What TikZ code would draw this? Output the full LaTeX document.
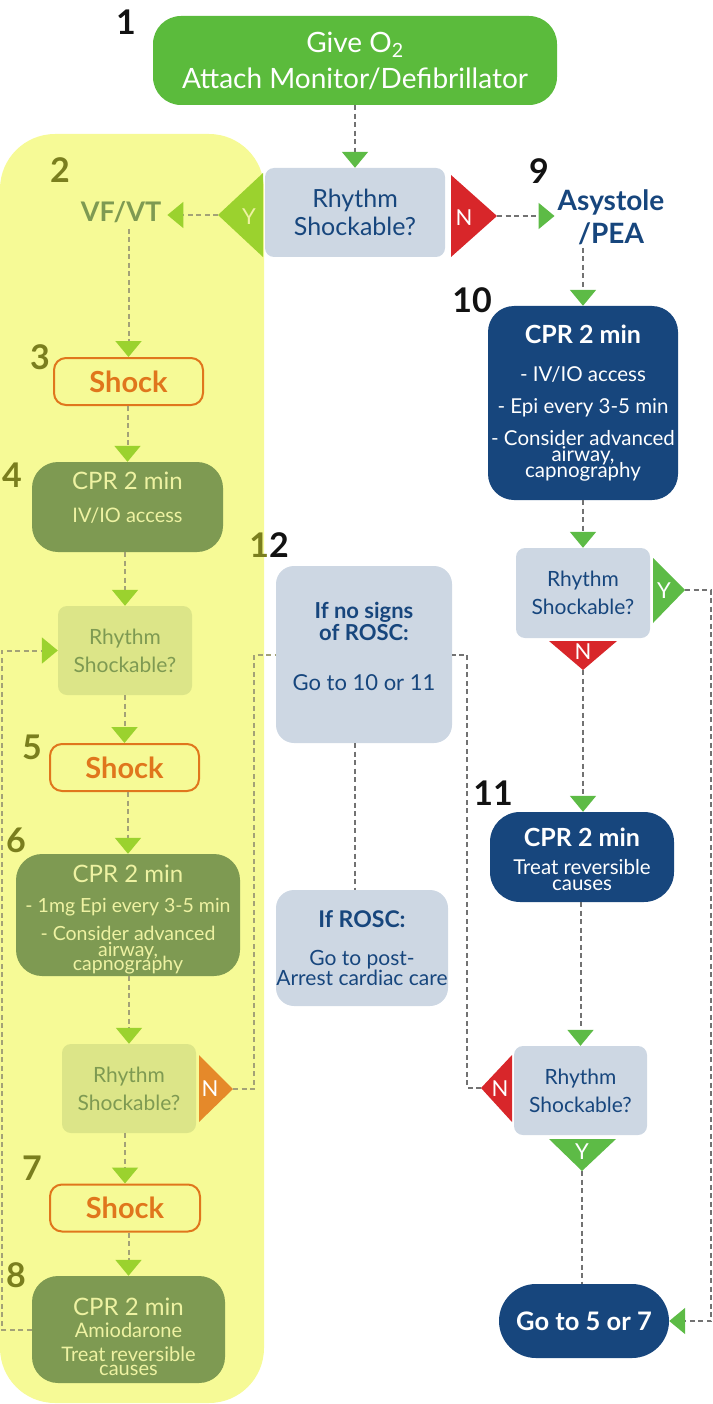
\documentclass[tikz,border=0pt]{standalone}
\usepackage{fontspec}
\setmainfont{Lato}
\usetikzlibrary{arrows.meta,positioning}
\definecolor{startgreen}{HTML}{5BBB3C}
\definecolor{rgreen}{HTML}{5DBB46}
\definecolor{arrlime}{HTML}{9BD22E}
\definecolor{panel}{HTML}{F6FA96}
\definecolor{cprolive}{HTML}{7E9A52}
\definecolor{olivenum}{HTML}{7A7E1E}
\definecolor{palebox}{HTML}{DCE588}
\definecolor{creamtext}{HTML}{EEF2A2}
\definecolor{querybg}{HTML}{CDD7E3}
\definecolor{navy}{HTML}{17467D}
\definecolor{flagred}{HTML}{D8262A}
\definecolor{flagorange}{HTML}{E5892A}
\definecolor{shockorange}{HTML}{E0761C}
\definecolor{linkgrey}{HTML}{727272}
\definecolor{linkkhaki}{HTML}{A3A277}
\tikzset{
    startbox/.style={fill=startgreen, rounded corners=28pt, text=white, align=center, inner sep=0pt, font=\fontsize{28}{36}\selectfont},
    query/.style={fill=querybg, rounded corners=9pt, text=navy, align=center, inner sep=0pt, font=\fontsize{21}{28}\selectfont},
    palequery/.style={query, fill=palebox, text=cprolive},
    navybox/.style={fill=navy, rounded corners=26pt, text=white, align=center, inner sep=0pt, font=\fontsize{20.5}{32}\selectfont},
    olivebox/.style={fill=cprolive, rounded corners=26pt, text=creamtext, align=center, inner sep=0pt, font=\fontsize{20}{28}\selectfont},
    shockbox/.style={draw=shockorange, line width=2pt, fill=panel, rounded corners=12pt, text=shockorange, inner sep=0pt, font=\bfseries\fontsize{29}{30}\selectfont},
    roscbox/.style={fill=querybg, rounded corners=18pt, text=navy, align=center, inner sep=0pt},
    num/.style={font=\bfseries\fontsize{34}{34}\selectfont, inner sep=0pt, text=black!93},
    leftnum/.style={num, text=olivenum},
    flag/.style={font=\fontsize{22}{22}\selectfont, text=white, inner sep=0pt},
    rlink/.style={draw=linkgrey, line width=2pt, dash pattern=on 5pt off 3.5pt},
    llink/.style={rlink, draw=linkkhaki},
    gtip/.style={-{Triangle[width=26pt,length=16pt,color=rgreen]}},
    ltip/.style={-{Triangle[width=26pt,length=16pt,color=arrlime]}}
}
\begin{document}
\begin{tikzpicture}[x=1pt,y=-1pt]
    \useasboundingbox (0,0) rectangle (712,1404);
    \fill[panel, rounded corners=55pt] (0,134) rectangle (264,1403);

    % top and first check
    \node[startbox, minimum width=404pt, minimum height=89pt] (b1) at (355,60.5) {Give O\textsubscript{2}\\Attach Monitor/Defibrillator};
    \node[query, minimum width=180pt, minimum height=89pt, font=\fontsize{25}{28}\selectfont] (q0) at (355,212.5) {Rhythm\\Shockable?};
    \node[inner sep=6pt, text=cprolive, font=\bfseries\fontsize{27}{30}\selectfont] (vf) at (121,212) {VF/VT};
    \node[inner sep=3pt, text=navy, align=center, font=\bfseries\fontsize{28}{33}\selectfont] (ase) at (611,217) {Asystole\\/PEA};

    % shockable side
    \node[shockbox, minimum width=149pt, minimum height=47pt] (s3) at (128.5,381.5) {Shock};
    \node[olivebox, minimum width=191pt, minimum height=90pt, text depth=20pt] (c4) at (127.5,507) {{\fontsize{24}{28}\selectfont CPR 2 min}\\[5pt]IV/IO access};
    \node[palequery, minimum width=134pt, minimum height=89pt] (q1) at (125,650.5) {Rhythm\\Shockable?};
    \node[shockbox, minimum width=149pt, minimum height=47pt] (s5) at (124.5,767.5) {Shock};
    \node[olivebox, minimum width=224pt, minimum height=122pt, font=\fontsize{19.5}{28}\selectfont] (c6) at (128,915) {{\fontsize{24}{28}\selectfont\rule{0pt}{26pt}CPR 2 min}\\[2pt]- 1mg Epi every 3-5 min\\- Consider advanced\\[-12pt]airway,\\[-14pt]capnography};
    \node[palequery, minimum width=134pt, minimum height=89pt] (q2) at (129,1088.5) {Rhythm\\Shockable?};
    \node[shockbox, minimum width=150pt, minimum height=47pt] (s7) at (125,1208) {Shock};
    \node[olivebox, minimum width=193pt, minimum height=107pt, font=\fontsize{20}{24}\selectfont] (c8) at (128.5,1329.5) {{\fontsize{24}{28}\selectfont\rule{0pt}{32pt}CPR 2 min}\\[-2pt]Amiodarone\\Treat reversible\\[-10pt]causes};

    % ROSC notes
    \node[roscbox, minimum width=176pt, minimum height=177pt, text depth=16pt, font=\fontsize{22}{22}\selectfont] (r12) at (364,654.5) {\textbf{If no signs}\\\textbf{of ROSC:}\\[28pt]Go to 10 or 11};
    \node[roscbox, minimum width=172pt, minimum height=116pt, font=\fontsize{21}{17}\selectfont] (rosc) at (362,948) {{\fontsize{23}{17}\selectfont\textbf{If ROSC:}}\\[21pt]Go to post-\\Arrest cardiac care};

    % non-shockable side
    \node[navybox, minimum width=190pt, minimum height=194pt] (c10) at (583,403) {{\bfseries\fontsize{25}{32}\selectfont CPR 2 min}\\[6pt]- IV/IO access\\- Epi every 3-5 min\\- Consider advanced\\[-16pt]airway,\\[-16pt]capnography};
    \node[query, minimum width=134pt, minimum height=90pt] (q3) at (583,593) {Rhythm\\Shockable?};
    \node[navybox, minimum width=184pt, minimum height=90pt, rounded corners=30pt, font=\fontsize{20.5}{28}\selectfont] (c11) at (582,857) {{\bfseries\fontsize{25}{28}\selectfont\rule{0pt}{24pt}CPR 2 min}\\Treat reversible\\[-12pt]causes};
    \node[query, minimum width=133pt, minimum height=89pt] (q4) at (580.5,1090.5) {Rhythm\\Shockable?};
    \node[navybox, minimum width=170pt, minimum height=74pt, rounded corners=37pt, font=\bfseries\fontsize{25.5}{28}\selectfont] (go57) at (584,1321) {Go to 5 or 7};

    % step numbers
    \node[num] (n1) at (126,22) {1};
    \node[leftnum] (n2) at (60,170) {2};
    \node[leftnum] (n3) at (40,357) {3};
    \node[leftnum] (n4) at (12,475) {4};
    \node[leftnum] (n5) at (32,747) {5};
    \node[leftnum] (n6) at (16,840) {6};
    \node[leftnum] (n7) at (32,1168) {7};
    \node[leftnum] (n8) at (16,1275) {8};
    \node[num] (n9) at (539,171) {9};
    \node[num] (n10) at (472,300) {10};
    \node[num] (n11) at (493,793) {11};
    \node[num] (n12) at (269,545) {\textcolor{olivenum}{1}2};

    % yes / no flags
    \fill[arrlime] (263,173) -- (263,257) -- (218,215) -- cycle;
    \coordinate (yt0) at (218,215);
    \node[flag, text=creamtext] (y0) at (249,217) {Y};
    \fill[flagred] (451,175) -- (451,257) -- (497,216) -- cycle;
    \coordinate (nt0) at (497,216);
    \node[flag] (no0) at (464,218) {N};
    \fill[rgreen] (653,558) -- (653,623) -- (685,590) -- cycle;
    \coordinate (yt3) at (685,590);
    \node[flag] (y3) at (664,591) {Y};
    \fill[flagred] (549,641) -- (617,641) -- (583,670) -- cycle;
    \coordinate (nt3) at (583,670);
    \node[flag] (no3) at (583,652) {N};
    \fill[flagred] (512,1055) -- (512,1122) -- (481,1088) -- cycle;
    \coordinate (nt4) at (481,1088);
    \node[flag] (no4) at (500,1089) {N};
    \fill[rgreen] (549,1139) -- (616,1139) -- (582,1171) -- cycle;
    \coordinate (yt4) at (582,1171);
    \node[flag] (y4) at (582,1152) {Y};
    \fill[flagorange] (199,1055) -- (199,1122) -- (233,1089) -- cycle;
    \coordinate (nt2) at (233,1089);
    \node[flag] (no2) at (210,1089) {N};

    % connectors
    \draw[rlink,gtip] (b1) -- (q0);
    \draw[llink,ltip] (yt0) -- (yt0 -| vf.east);
    \draw[rlink,gtip] (nt0) -- (nt0 -| ase.west);
    \draw[llink,ltip] (vf.south -| s3.north) -- (s3.north);
    \draw[llink,ltip] (s3.south -| c4.north) -- (c4.north);
    \draw[llink,ltip] (c4.south -| q1.north) -- (q1.north);
    \draw[llink,ltip] (q1.south -| s5.north) -- (s5.north);
    \draw[llink,ltip] (s5.south -| c6.north) -- (c6.north);
    \draw[llink,ltip] (c6.south -| q2.north) -- (q2.north);
    \draw[llink,ltip] (q2.south -| s7.north) -- (s7.north);
    \draw[llink,ltip] (s7.south -| c8.north) -- (c8.north);
    \draw[llink,ltip] (c8.west) -- ++(-30,0) |- (q1.west);
    \draw[llink] (nt2) -- ++(21,0) |- (r12.west);
    \draw[rlink] (nt4) -- ++(-14,0) |- (r12.east);
    \draw[rlink] ([xshift=-9pt]r12.south) -- ([xshift=-9pt]r12.south |- rosc.north);
    \draw[rlink,gtip] (ase.south -| c10.north) -- (c10.north);
    \draw[rlink,gtip] (c10) -- (q3);
    \draw[rlink,gtip] (nt3) -- (nt3 |- c11.north);
    \draw[rlink,gtip] (yt3) -- ++(26,0) |- (go57.east);
    \draw[rlink,gtip] (c11.south -| q4.north) -- (q4.north);
    \draw[rlink] (yt4) -- (yt4 |- go57.north);
\end{tikzpicture}
\end{document}
